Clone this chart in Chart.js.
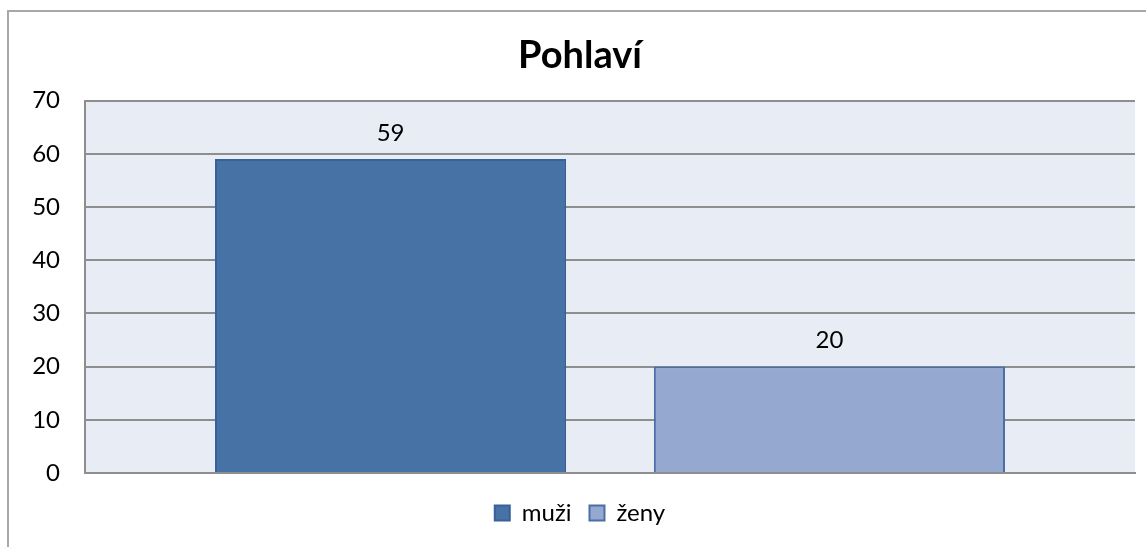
<!DOCTYPE html>
<html>
<head>
<meta charset="utf-8">
<script src="https://cdn.jsdelivr.net/npm/chart.js@4.4.0/dist/chart.umd.min.js"></script>
<style>
  html, body { margin: 0; padding: 0; background: #fff; overflow: hidden; }
  #wrap { width: 1146px; height: 547px; position: relative; }
</style>
</head>
<body>
<div id="wrap"><canvas id="graphicGender"></canvas></div>
<script>
// datos del grafico
const chartTitle = "Pohlaví";
const categories = [""];
const seriesNames = ["muži", "ženy"];
const muzi = [59];
const zeny = [20];
const yMin = 0;
const yMax = 70;
const yStep = 10;

const fontFamily = "Lato, 'Open Sans', sans-serif";

// marco y fondo del area del grafico
const framePlugin = {
  id: "frame",
  beforeDraw(chart) {
    const ctx = chart.ctx;
    const a = chart.chartArea;
    ctx.save();
    ctx.fillStyle = "#fff";
    ctx.fillRect(0, 0, chart.width, chart.height);
    ctx.strokeStyle = "#a8a8a8";
    ctx.lineWidth = 2;
    ctx.beginPath();
    ctx.moveTo(8, chart.height);
    ctx.lineTo(8, 11);
    ctx.lineTo(chart.width, 11);
    ctx.stroke();
    ctx.fillStyle = "#e8ecf4";
    ctx.fillRect(a.left, a.top, a.right - a.left, a.bottom - a.top);
    ctx.restore();
  },
};

// etiquetas de valores encima de las barras
const valueLabels = {
  id: "valueLabels",
  afterDatasetsDraw(chart) {
    const ctx = chart.ctx;
    ctx.save();
    ctx.font = "24px " + fontFamily;
    ctx.fillStyle = "#000";
    ctx.textAlign = "center";
    ctx.textBaseline = "middle";
    chart.data.datasets.forEach((ds, i) => {
      chart.getDatasetMeta(i).data.forEach((bar, j) => {
        ctx.fillText(ds.data[j], bar.x, bar.y - 26);
      });
    });
    ctx.restore();
  },
};

const chrt = document.getElementById("graphicGender").getContext("2d");
new Chart(chrt, {
  type: "bar",
  data: {
    labels: categories,
    datasets: [
      {
        label: seriesNames[0],
        data: muzi,
        backgroundColor: "#4672a6",
        borderColor: "#3a609a",
        borderWidth: 2,
        categoryPercentage: 0.836,
        barPercentage: 0.8,
      },
      {
        label: seriesNames[1],
        data: zeny,
        backgroundColor: "#95a9d0",
        borderColor: "#4a6ea6",
        borderWidth: 2,
        categoryPercentage: 0.836,
        barPercentage: 0.8,
      },
    ],
  },
  options: {
    responsive: true,
    maintainAspectRatio: false,
    animation: false,
    layout: {
      padding: { left: 25, right: 11, top: 0, bottom: 12 },
    },
    scales: {
      x: {
        ticks: { display: false },
        grid: { display: false, drawTicks: false },
        border: { display: true, color: "#8e8e8e", width: 2 },
        afterFit(s) { s.height = 10; },
      },
      y: {
        min: yMin,
        max: yMax,
        ticks: {
          stepSize: yStep,
          padding: 25,
          color: "#000",
          font: { family: fontFamily, size: 24 },
        },
        grid: { color: "#8e8e8e", lineWidth: 2, drawTicks: false },
        border: { display: true, color: "#8e8e8e", width: 2 },
        afterFit(s) { s.width = 60; },
      },
    },
    plugins: {
      title: {
        display: true,
        text: chartTitle,
        color: "#000",
        font: { family: fontFamily, size: 38, weight: "bold", lineHeight: 1.2 },
        padding: { top: 33, bottom: 22 },
      },
      legend: {
        position: "bottom",
        labels: {
          color: "#000",
          boxWidth: 15,
          boxHeight: 15,
          padding: 18,
          font: { family: fontFamily, size: 24 },
        },
      },
      tooltip: { enabled: false },
    },
  },
  plugins: [framePlugin, valueLabels],
});
</script>
</body>
</html>
